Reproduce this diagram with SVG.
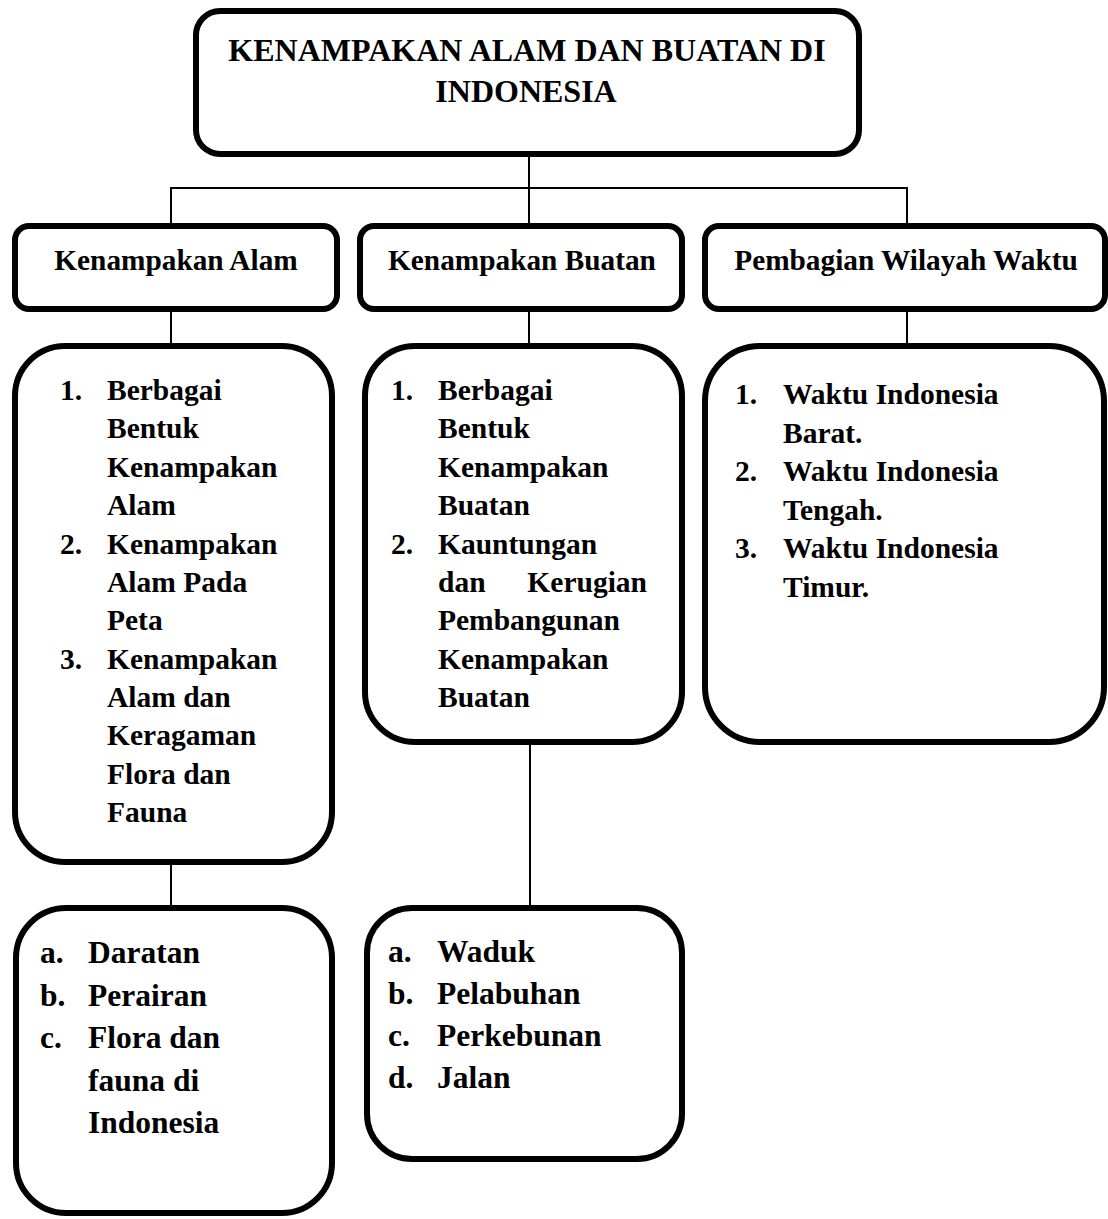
<svg xmlns="http://www.w3.org/2000/svg" width="1108" height="1219" viewBox="0 0 1108 1219">
<style>
  .box { fill: #ffffff; stroke: #000000; stroke-width: 6; }
  .conn line { stroke: #000000; stroke-width: 2; }
  text { font-family: "Liberation Serif", "Times New Roman", serif; font-weight: bold; fill: #000000; }
  .title { font-size: 32px; text-anchor: middle; }
  .head { font-size: 29.3px; text-anchor: middle; }
  .item { font-size: 29.5px; }
  .sub { font-size: 31.5px; }
</style>
<rect x="0" y="0" width="1108" height="1219" fill="#ffffff"/>
<g id="connectors" class="conn">
  <line x1="529" y1="157" x2="529" y2="188"/>
  <line x1="170" y1="188" x2="908" y2="188"/>
  <line x1="171" y1="188" x2="171" y2="224"/>
  <line x1="529" y1="188" x2="529" y2="224"/>
  <line x1="907" y1="188" x2="907" y2="224"/>
  <line x1="171" y1="311" x2="171" y2="344"/>
  <line x1="529" y1="311" x2="529" y2="344"/>
  <line x1="907" y1="311" x2="907" y2="344"/>
  <line x1="171" y1="864" x2="171" y2="906"/>
  <line x1="530" y1="744" x2="530" y2="906"/>
</g>
<g id="root">
  <rect class="box" x="196" y="11" width="663" height="143" rx="24"/>
  <text class="title" x="527" y="61">KENAMPAKAN ALAM DAN BUATAN DI</text>
  <text class="title" x="526" y="102">INDONESIA</text>
</g>
<g id="kenampakan-alam">
  <rect class="box" x="15" y="226" width="322" height="83" rx="14"/>
  <text class="head" x="176" y="270">Kenampakan Alam</text>
</g>
<g id="kenampakan-buatan">
  <rect class="box" x="360" y="226" width="322" height="83" rx="14"/>
  <text class="head" x="522" y="270">Kenampakan Buatan</text>
</g>
<g id="pembagian-wilayah-waktu">
  <rect class="box" x="705" y="226" width="400" height="83" rx="14"/>
  <text class="head" x="906" y="270">Pembagian Wilayah Waktu</text>
</g>
<g id="alam-list">
  <rect class="box" x="15" y="346" width="317" height="516" rx="50"/>
  <text class="item" x="60" y="400">1.</text>
  <text class="item" x="107" y="400">Berbagai</text>
  <text class="item" x="107" y="438.4">Bentuk</text>
  <text class="item" x="107" y="476.8">Kenampakan</text>
  <text class="item" x="107" y="515.1">Alam</text>
  <text class="item" x="60" y="553.5">2.</text>
  <text class="item" x="107" y="553.5">Kenampakan</text>
  <text class="item" x="107" y="591.9">Alam Pada</text>
  <text class="item" x="107" y="630.3">Peta</text>
  <text class="item" x="60" y="668.7">3.</text>
  <text class="item" x="107" y="668.7">Kenampakan</text>
  <text class="item" x="107" y="707">Alam dan</text>
  <text class="item" x="107" y="745.4">Keragaman</text>
  <text class="item" x="107" y="783.8">Flora dan</text>
  <text class="item" x="107" y="822.2">Fauna</text>
</g>
<g id="buatan-list">
  <rect class="box" x="365" y="346" width="317" height="396" rx="50"/>
  <text class="item" x="391" y="400">1.</text>
  <text class="item" x="438" y="400">Berbagai</text>
  <text class="item" x="438" y="438.4">Bentuk</text>
  <text class="item" x="438" y="476.8">Kenampakan</text>
  <text class="item" x="438" y="515.1">Buatan</text>
  <text class="item" x="391" y="553.5">2.</text>
  <text class="item" x="438" y="553.5">Kauntungan</text>
  <text class="item" x="438" y="591.9">dan</text>
  <text class="item" x="647" y="591.9" text-anchor="end">Kerugian</text>
  <text class="item" x="438" y="630.3">Pembangunan</text>
  <text class="item" x="438" y="668.7">Kenampakan</text>
  <text class="item" x="438" y="707">Buatan</text>
</g>
<g id="waktu-list">
  <rect class="box" x="705" y="346" width="399" height="396" rx="55"/>
  <text class="item" x="735" y="404">1.</text>
  <text class="item" x="783" y="404">Waktu Indonesia</text>
  <text class="item" x="783" y="442.5">Barat.</text>
  <text class="item" x="735" y="481">2.</text>
  <text class="item" x="783" y="481">Waktu Indonesia</text>
  <text class="item" x="783" y="519.5">Tengah.</text>
  <text class="item" x="735" y="558">3.</text>
  <text class="item" x="783" y="558">Waktu Indonesia</text>
  <text class="item" x="783" y="596.5">Timur.</text>
</g>
<g id="alam-sub">
  <rect class="box" x="16" y="908" width="316" height="305" rx="50"/>
  <text class="sub" x="40" y="963">a.</text>
  <text class="sub" x="88" y="963">Daratan</text>
  <text class="sub" x="40" y="1005.5">b.</text>
  <text class="sub" x="88" y="1005.5">Perairan</text>
  <text class="sub" x="40" y="1048">c.</text>
  <text class="sub" x="88" y="1048">Flora dan</text>
  <text class="sub" x="88" y="1090.5">fauna di</text>
  <text class="sub" x="88" y="1133">Indonesia</text>
</g>
<g id="buatan-sub">
  <rect class="box" x="367" y="908" width="315" height="251" rx="45"/>
  <text class="sub" x="388" y="962">a.</text>
  <text class="sub" x="437" y="962">Waduk</text>
  <text class="sub" x="388" y="1004">b.</text>
  <text class="sub" x="437" y="1004">Pelabuhan</text>
  <text class="sub" x="388" y="1045.5">c.</text>
  <text class="sub" x="437" y="1045.5">Perkebunan</text>
  <text class="sub" x="388" y="1087.5">d.</text>
  <text class="sub" x="437" y="1087.5">Jalan</text>
</g>
</svg>
